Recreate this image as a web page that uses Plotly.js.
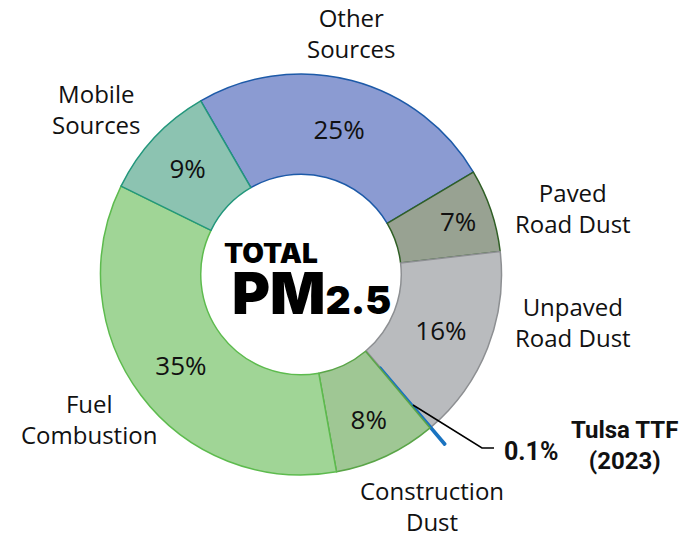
<!DOCTYPE html>
<html>
<head>
<meta charset="utf-8">
<script src="https://cdn.plot.ly/plotly-3.0.1.min.js"></script>
<style>html,body{margin:0;padding:0;background:#fff;}#chart{width:691px;height:538px;}</style>
</head>
<body>
<div id="chart"></div>
<script>
var categories = ['Other Sources', 'Paved Road Dust', 'Unpaved Road Dust', 'Tulsa TTF (2023)', 'Construction Dust', 'Fuel Combustion', 'Mobile Sources'];
var values = [24.8, 6.7, 15.6, 0.1, 8.3, 35.1, 9.4];
var pctLabels = ['25%', '7%', '16%', '', '8%', '35%', '9%'];
var sliceColors = ['#8b9bd2', '#98a292', '#b9bbbe', '#1a73c0', '#9fc794', '#a0d596', '#8cc3b1'];
var lineColors = ['#1d5aa8', '#2f5f25', '#8d8f92', '#1a73c0', '#5aa548', '#5dbb4e', '#23977c'];
var lineWidths = [1.5, 1.5, 1.5, 2.5, 1.5, 1.5, 1.5];
var pulls = [0, 0, 0, 0.11, 0, 0, 0];

var W = 691, H = 538;
function px(x) { return x / W; }
function py(y) { return 1 - y / H; }

var cx = 301, cy = 274.5, R = 200.5 * 1.11;

var trace = {
  type: 'pie',
  labels: categories,
  values: values,
  sort: false,
  direction: 'clockwise',
  rotation: -30,
  hole: 0.5,
  pull: pulls,
  text: pctLabels,
  textinfo: 'text',
  textposition: 'inside',
  insidetextorientation: 'horizontal',
  insidetextfont: { family: 'Open Sans, Noto Sans, sans-serif', size: 26, color: '#111' },
  marker: { colors: sliceColors, line: { color: lineColors, width: lineWidths } },
  hoverinfo: 'none',
  showlegend: false,
  domain: { x: [px(cx - R), px(cx + R)], y: [py(cy + R), py(cy - R)] }
};

var labFont = { family: 'Open Sans, Noto Sans, sans-serif', size: 24, color: '#111' };
function lab(text, x, y) {
  return { text: text, x: px(x), y: py(y), xref: 'paper', yref: 'paper', showarrow: false,
    xanchor: 'center', yanchor: 'middle', align: 'center', font: labFont };
}
var annotations = [
  lab('Other<br>Sources', 351, 33),
  lab('Mobile<br>Sources', 96, 109),
  lab('Paved<br>Road Dust', 573, 208),
  lab('Unpaved<br>Road Dust', 573, 322),
  lab('Fuel<br>Combustion', 89, 419),
  lab('Construction<br>Dust', 432, 506),
  { text: '<b>0.1%</b>', x: px(531), y: py(451), xref: 'paper', yref: 'paper', showarrow: false,
    xanchor: 'center', yanchor: 'middle', font: { family: 'Roboto, sans-serif', size: 25, color: '#111' } },
  { text: '<b>Tulsa TTF<br>(2023)</b>', x: px(624), y: py(445), xref: 'paper', yref: 'paper', showarrow: false,
    xanchor: 'center', yanchor: 'middle', align: 'center', font: { family: 'Roboto, sans-serif', size: 24, color: '#111' } },
  { text: 'TOTAL', x: px(222), y: py(253), xref: 'paper', yref: 'paper', showarrow: false, height: 20,
    xanchor: 'left', yanchor: 'middle', font: { family: 'Inter, Roboto, sans-serif', size: 28, weight: 900, color: '#000' } },
  { text: 'PM<span style="font-size:39px">2.5</span>', x: px(230), y: py(293), xref: 'paper', yref: 'paper', showarrow: false, height: 44,
    xanchor: 'left', yanchor: 'middle', font: { family: 'Inter, Roboto, sans-serif', size: 58, weight: 900, color: '#000' } }
];

var layout = {
  width: W, height: H,
  margin: { l: 0, r: 0, t: 0, b: 0 },
  paper_bgcolor: '#ffffff',
  showlegend: false,
  annotations: annotations,
  shapes: [
    { type: 'path', xref: 'paper', yref: 'paper',
      path: 'M ' + px(413) + ',' + py(405) + ' L ' + px(482) + ',' + py(448) + ' L ' + px(494) + ',' + py(448),
      line: { color: '#000', width: 1.5 } }
  ]
};

Plotly.newPlot('chart', [trace], layout, { displayModeBar: false, staticPlot: true });
</script>
</body>
</html>
